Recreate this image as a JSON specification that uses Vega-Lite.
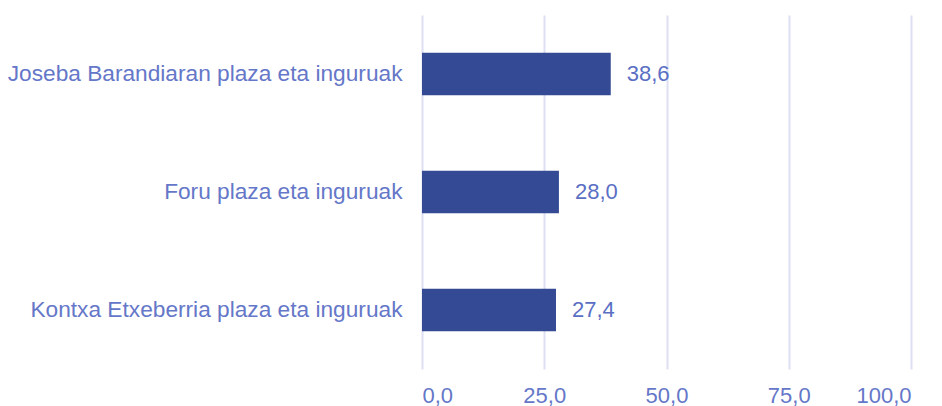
{
  "$schema": "https://vega.github.io/schema/vega-lite/v6.json",
  "width": 489,
  "height": 354,
  "padding": {"left": 7, "top": 15, "right": 5, "bottom": 5},
  "background": "white",
  "config": {
    "view": {"stroke": null},
    "font": "Liberation Sans",
    "locale": {"number": {"decimal": ",", "thousands": ".", "grouping": [3], "currency": ["", " €"]}}
  },
  "data": {"values": [
    {"zona": "Joseba Barandiaran plaza eta inguruak", "valor": 38.6},
    {"zona": "Foru plaza eta inguruak", "valor": 28.0},
    {"zona": "Kontxa Etxeberria plaza eta inguruak", "valor": 27.4}
  ]},
  "encoding": {
    "y": {"field": "zona", "type": "nominal", "sort": null, "title": null,
      "scale": {"paddingInner": 0.64, "paddingOuter": 0.32},
      "axis": {"domain": false, "ticks": false, "grid": false, "labelFontSize": 22.7, "labelColor": "#6577c8", "labelPadding": 20, "labelLimit": 500}},
    "x": {"field": "valor", "type": "quantitative", "title": null,
      "scale": {"domain": [0, 100], "nice": false},
      "axis": {"values": [0, 25, 50, 75, 100], "format": ".1f", "domain": false, "ticks": false, "grid": true, "gridColor": "#dde0f2", "gridWidth": 2, "labelFontSize": 22, "labelColor": "#6577c8", "labelPadding": 16}}
  },
  "layer": [
    {"mark": {"type": "bar", "color": "#344a94"}},
    {"mark": {"type": "text", "align": "left", "dx": 16, "fontSize": 22, "color": "#5a6fc4"},
     "encoding": {"text": {"field": "valor", "type": "quantitative", "format": ".1f"}}}
  ]
}
